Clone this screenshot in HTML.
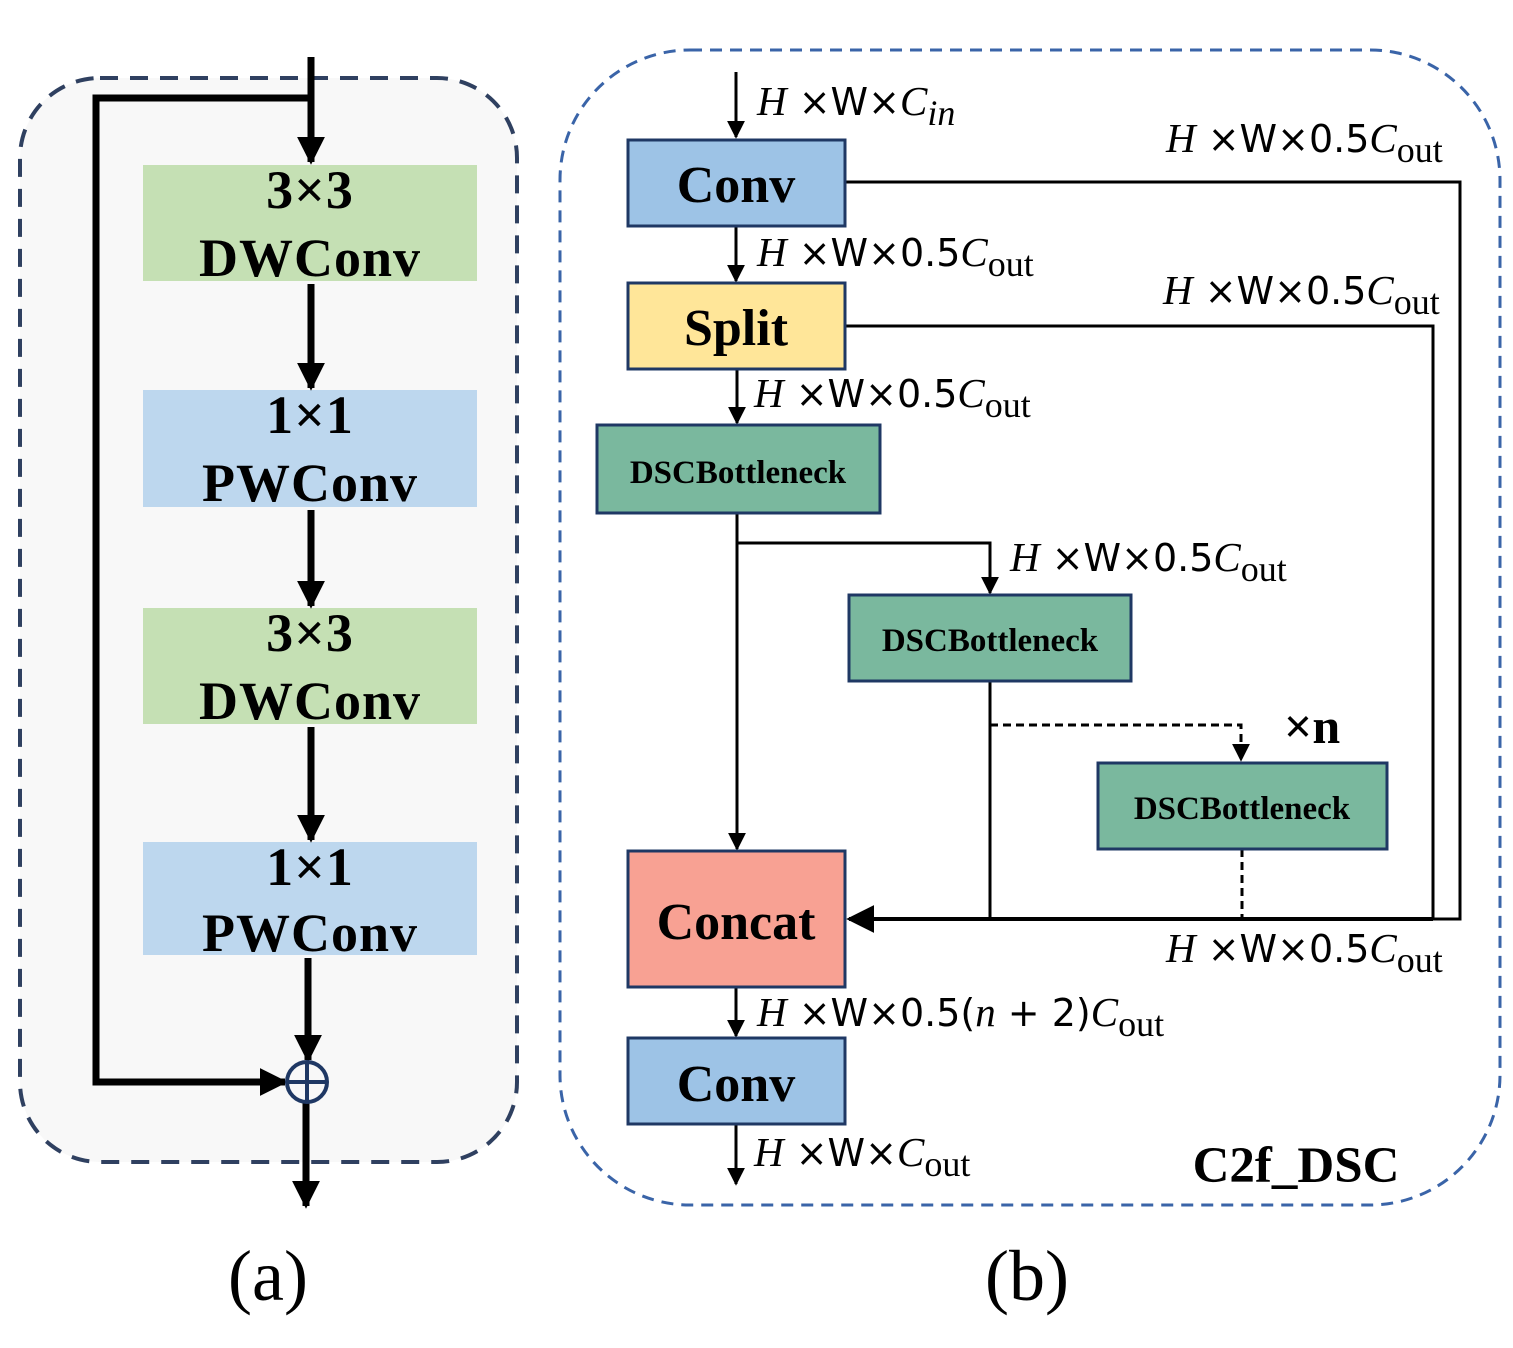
<!DOCTYPE html>
<html><head><meta charset="utf-8"><style>
html,body{margin:0;padding:0;background:#fff;}
svg{display:block;}
.b{font-family:"Liberation Serif",serif;font-weight:bold;fill:#000;}
.m{font-family:"Liberation Serif",serif;font-size:41px;fill:#000;}
.s{font-family:"DejaVu Sans",sans-serif;font-size:38px;font-weight:normal;}
</style></head><body>
<svg width="1513" height="1348" viewBox="0 0 1513 1348" xmlns="http://www.w3.org/2000/svg">
<defs>
<marker id="ahs" viewBox="0 0 10 10" markerWidth="18" markerHeight="18" refX="9" refY="5" orient="auto" markerUnits="userSpaceOnUse"><path d="M0,0 L10,5 L0,10 z" fill="#000"/></marker>
<marker id="ahb" viewBox="0 0 10 10" markerWidth="28" markerHeight="28" refX="9" refY="5" orient="auto" markerUnits="userSpaceOnUse"><path d="M0,0 L10,5 L0,10 z" fill="#000"/></marker>
</defs>
<!-- Panel a -->
<rect x="20" y="78" width="497" height="1084" rx="80" fill="#f8f8f8" stroke="#2f4060" stroke-width="4" stroke-dasharray="18,12"/>
<rect x="143" y="165" width="334" height="116" fill="#c5e0b4"/>
<rect x="143" y="390" width="334" height="117" fill="#bdd7ee"/>
<rect x="143" y="608" width="334" height="116" fill="#c5e0b4"/>
<rect x="143" y="842" width="334" height="113" fill="#bdd7ee"/>
<g class="b" font-size="54" text-anchor="middle" letter-spacing="1">
<text x="310" y="208">3×3</text><text x="310" y="276">DWConv</text>
<text x="310" y="433">1×1</text><text x="310" y="501">PWConv</text>
<text x="310" y="651">3×3</text><text x="310" y="719">DWConv</text>
<text x="310" y="885">1×1</text><text x="310" y="951">PWConv</text>
</g>
<g stroke="#000" stroke-width="7" fill="none">
<line x1="311" y1="57" x2="311" y2="162" marker-end="url(#ahb)"/>
<line x1="311" y1="284" x2="311" y2="388" marker-end="url(#ahb)"/>
<line x1="311" y1="510" x2="311" y2="606" marker-end="url(#ahb)"/>
<line x1="311" y1="727" x2="311" y2="840" marker-end="url(#ahb)"/>
<line x1="308" y1="958" x2="308" y2="1060" marker-end="url(#ahb)"/>
<polyline points="311,98 96,98 96,1082 285,1082" marker-end="url(#ahb)"/>
<line x1="306" y1="1102" x2="306" y2="1206" marker-end="url(#ahb)"/>
</g>
<circle cx="307" cy="1082" r="20" fill="none" stroke="#1f3864" stroke-width="4"/>
<line x1="287" y1="1082" x2="327" y2="1082" stroke="#1f3864" stroke-width="4"/>
<line x1="307" y1="1062" x2="307" y2="1102" stroke="#1f3864" stroke-width="4"/>
<text x="268" y="1300" font-family="Liberation Serif,serif" font-size="72" text-anchor="middle">(a)</text>

<!-- Panel b -->
<rect x="560" y="50" width="940" height="1155" rx="130" fill="#fff" stroke="#3a64a8" stroke-width="3" stroke-dasharray="12,8"/>
<g stroke="#000" stroke-width="3" fill="none">
<line x1="736" y1="72" x2="736" y2="137" marker-end="url(#ahs)"/>
<line x1="736" y1="226" x2="736" y2="281" marker-end="url(#ahs)"/>
<line x1="737" y1="369" x2="737" y2="423" marker-end="url(#ahs)"/>
<line x1="737" y1="513" x2="737" y2="849" marker-end="url(#ahs)"/>
<polyline points="737,543 990,543 990,593" marker-end="url(#ahs)"/>
<line x1="990" y1="681" x2="990" y2="919"/>
<polyline points="845,182 1460,182 1460,919 1433,919"/>
<polyline points="845,326 1433,326 1433,919"/>
<line x1="736" y1="987" x2="736" y2="1036" marker-end="url(#ahs)"/>
<line x1="736" y1="1124" x2="736" y2="1184" marker-end="url(#ahs)"/>
</g>
<line x1="1433" y1="919" x2="849" y2="919" stroke="#000" stroke-width="4" marker-end="url(#ahb)"/>
<g stroke="#000" stroke-width="3" fill="none" stroke-dasharray="8,5">
<polyline points="990,725 1241,725 1241,760" marker-end="url(#ahs)"/>
<line x1="1242" y1="849" x2="1242" y2="919"/>
</g>
<g stroke="#1f3864" stroke-width="3">
<rect x="628" y="140" width="217" height="86" fill="#9dc3e6"/>
<rect x="628" y="283" width="217" height="86" fill="#ffe699"/>
<rect x="597" y="425" width="283" height="88" fill="#7ab89e"/>
<rect x="849" y="595" width="282" height="86" fill="#7ab89e"/>
<rect x="1098" y="763" width="289" height="86" fill="#7ab89e"/>
<rect x="628" y="851" width="217" height="136" fill="#f8a193"/>
<rect x="628" y="1038" width="217" height="86" fill="#9dc3e6"/>
</g>
<g class="b" text-anchor="middle">
<text x="736" y="202" font-size="52">Conv</text>
<text x="736" y="345" font-size="52">Split</text>
<text x="738" y="483" font-size="33">DSCBottleneck</text>
<text x="990" y="651" font-size="33">DSCBottleneck</text>
<text x="1242" y="819" font-size="33">DSCBottleneck</text>
<text x="736" y="939" font-size="52">Concat</text>
<text x="736" y="1101" font-size="52">Conv</text>
<text x="1312" y="743" font-size="50">×n</text>
<text x="1296" y="1182" font-size="51">C2f_DSC</text>
</g>
<g class="m">
<text x="757" y="115"><tspan font-style="italic">H</tspan><tspan class="s"> ×W×</tspan><tspan font-style="italic">C</tspan><tspan font-style="italic" font-size="36" dy="10">in</tspan></text>
<text x="757" y="266"><tspan font-style="italic">H</tspan><tspan class="s"> ×W×0.5</tspan><tspan font-style="italic">C</tspan><tspan font-size="36" dy="10">out</tspan></text>
<text x="754" y="407"><tspan font-style="italic">H</tspan><tspan class="s"> ×W×0.5</tspan><tspan font-style="italic">C</tspan><tspan font-size="36" dy="10">out</tspan></text>
<text x="1010" y="571"><tspan font-style="italic">H</tspan><tspan class="s"> ×W×0.5</tspan><tspan font-style="italic">C</tspan><tspan font-size="36" dy="10">out</tspan></text>
<text x="1166" y="152"><tspan font-style="italic">H</tspan><tspan class="s"> ×W×0.5</tspan><tspan font-style="italic">C</tspan><tspan font-size="36" dy="10">out</tspan></text>
<text x="1163" y="304"><tspan font-style="italic">H</tspan><tspan class="s"> ×W×0.5</tspan><tspan font-style="italic">C</tspan><tspan font-size="36" dy="10">out</tspan></text>
<text x="1166" y="962"><tspan font-style="italic">H</tspan><tspan class="s"> ×W×0.5</tspan><tspan font-style="italic">C</tspan><tspan font-size="36" dy="10">out</tspan></text>
<text x="757" y="1026"><tspan font-style="italic">H</tspan><tspan class="s"> ×W×0.5(</tspan><tspan font-style="italic">n</tspan><tspan class="s"> + 2)</tspan><tspan font-style="italic">C</tspan><tspan font-size="36" dy="10">out</tspan></text>
<text x="754" y="1166"><tspan font-style="italic">H</tspan><tspan class="s"> ×W×</tspan><tspan font-style="italic">C</tspan><tspan font-size="36" dy="10">out</tspan></text>
</g>
<text x="1027" y="1300" font-family="Liberation Serif,serif" font-size="72" text-anchor="middle">(b)</text>
</svg>
</body></html>
